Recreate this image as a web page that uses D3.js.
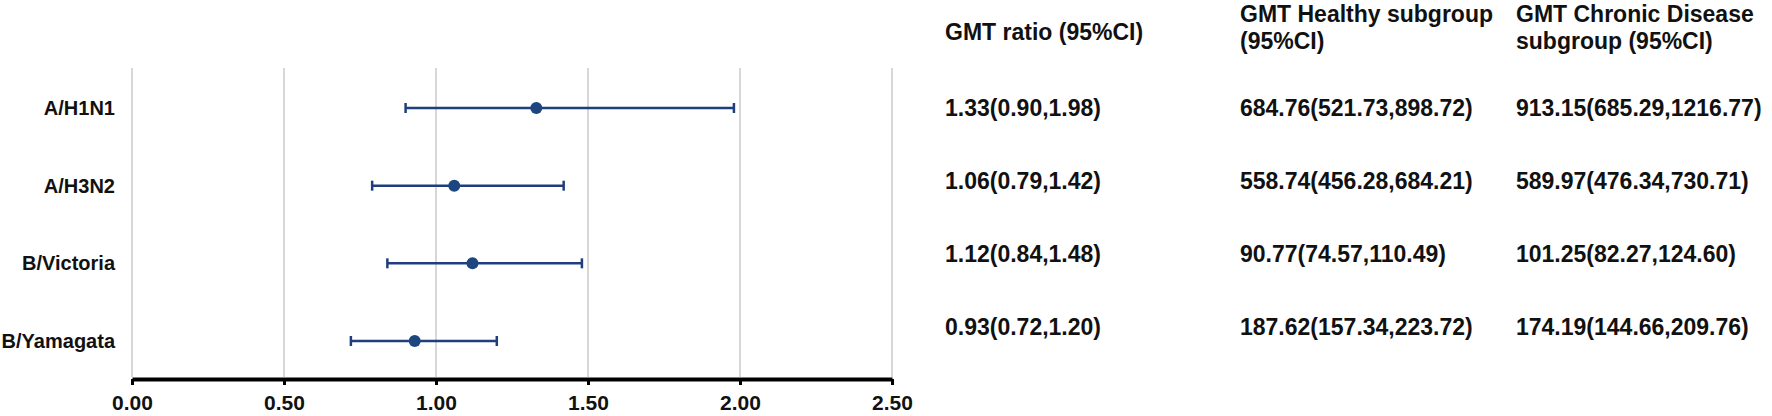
<!DOCTYPE html>
<html>
<head>
<meta charset="utf-8">
<script src="https://cdn.jsdelivr.net/npm/d3@7"></script>
<style>
  body { margin: 0; background: #fff; }
  svg { display: block; font-family: "Liberation Sans", Arial, sans-serif; }
</style>
</head>
<body>
<svg id="forest"></svg>
<script>
// strains and GMT ratio estimates (95% CI)
const strains = ["A/H1N1", "A/H3N2", "B/Victoria", "B/Yamagata"];
const ratio = [1.33, 1.06, 1.12, 0.93];
const ratioLow = [0.90, 0.79, 0.84, 0.72];
const ratioHigh = [1.98, 1.42, 1.48, 1.20];

// subgroup GMTs (95% CI)
const healthyGmt = [684.76, 558.74, 90.77, 187.62];
const healthyLow = [521.73, 456.28, 74.57, 157.34];
const healthyHigh = [898.72, 684.21, 110.49, 223.72];
const chronicGmt = [913.15, 589.97, 101.25, 174.19];
const chronicLow = [685.29, 476.34, 82.27, 144.66];
const chronicHigh = [1216.77, 730.71, 124.6, 209.76];

const xTicks = [0, 0.5, 1, 1.5, 2, 2.5];
const headers = [
  ["GMT ratio (95%CI)"],
  ["GMT Healthy subgroup", "(95%CI)"],
  ["GMT Chronic Disease", "subgroup (95%CI)"]
];

const width = 1772;
const height = 416;
const f2 = d3.format(".2f");
const blue = "#1f3f7c";

const data = strains.map((s, i) => ({
  strain: s,
  est: ratio[i],
  lo: ratioLow[i],
  hi: ratioHigh[i],
  cols: [
    f2(ratio[i]) + "(" + f2(ratioLow[i]) + "," + f2(ratioHigh[i]) + ")",
    f2(healthyGmt[i]) + "(" + f2(healthyLow[i]) + "," + f2(healthyHigh[i]) + ")",
    f2(chronicGmt[i]) + "(" + f2(chronicLow[i]) + "," + f2(chronicHigh[i]) + ")"
  ]
}));

const svg = d3.select("#forest").attr("width", width).attr("height", height);

const x = d3.scaleLinear().domain([0, 2.5]).range([132, 892]);
const y = d3.scalePoint().domain(strains).range([108, 341]);
const axisY = 379;

// vertical gridlines
svg.append("g")
  .selectAll("line")
  .data(xTicks)
  .enter()
  .append("line")
  .attr("x1", (d) => x(d))
  .attr("x2", (d) => x(d))
  .attr("y1", 68)
  .attr("y2", axisY - 2)
  .attr("stroke", "#bdbdbd")
  .attr("stroke-width", 1.2);

// x axis
const xAxis = d3.axisBottom(x)
  .tickValues(xTicks)
  .tickFormat(f2)
  .tickSize(6)
  .tickSizeOuter(0)
  .tickPadding(10);

const gx = svg.append("g")
  .attr("transform", `translate(0,${axisY})`)
  .call(xAxis);
gx.select(".domain").attr("stroke", "#000").attr("stroke-width", 4);
gx.selectAll(".tick line").attr("stroke", "#000").attr("stroke-width", 3);
gx.selectAll(".tick text")
  .attr("fill", "#111")
  .style("font-size", "21px")
  .style("font-weight", "bold");

// row labels
svg.append("g")
  .selectAll("text")
  .data(data)
  .enter()
  .append("text")
  .attr("x", 115)
  .attr("y", (d) => y(d.strain))
  .attr("dy", "0.35em")
  .attr("text-anchor", "end")
  .style("font-size", "20px")
  .style("font-weight", "bold")
  .attr("fill", "#111")
  .text((d) => d.strain);

// confidence intervals
const rows = svg.append("g")
  .selectAll("g")
  .data(data)
  .enter()
  .append("g");

rows.append("line")
  .attr("x1", (d) => x(d.lo))
  .attr("x2", (d) => x(d.hi))
  .attr("y1", (d) => y(d.strain))
  .attr("y2", (d) => y(d.strain))
  .attr("stroke", blue)
  .attr("stroke-width", 2.5);

rows.selectAll(".cap")
  .data((d) => [{ v: d.lo, s: d.strain }, { v: d.hi, s: d.strain }])
  .enter()
  .append("line")
  .attr("class", "cap")
  .attr("x1", (d) => x(d.v))
  .attr("x2", (d) => x(d.v))
  .attr("y1", (d) => y(d.s) - 5)
  .attr("y2", (d) => y(d.s) + 5)
  .attr("stroke", blue)
  .attr("stroke-width", 2.5);

rows.append("circle")
  .attr("cx", (d) => x(d.est))
  .attr("cy", (d) => y(d.strain))
  .attr("r", 6)
  .attr("fill", "#1d4580");

// table columns
const colX = [945, 1240, 1516];
const tableY = d3.scalePoint().domain(strains).range([108, 327]);

const head = svg.append("g");
headers.forEach((lines, c) => {
  const top = lines.length === 1 ? 32 : 14;
  lines.forEach((t, k) => {
    head.append("text")
      .attr("x", colX[c])
      .attr("y", top + k * 27)
      .attr("dy", "0.35em")
      .style("font-size", "23px")
      .style("font-weight", "bold")
      .attr("fill", "#111")
      .text(t);
  });
});

const cells = svg.append("g");
data.forEach((d) => {
  d.cols.forEach((t, c) => {
    cells.append("text")
      .attr("x", colX[c])
      .attr("y", tableY(d.strain))
      .attr("dy", "0.35em")
      .style("font-size", "23px")
      .style("font-weight", "bold")
      .attr("fill", "#111")
      .text(t);
  });
});
</script>
</body>
</html>
